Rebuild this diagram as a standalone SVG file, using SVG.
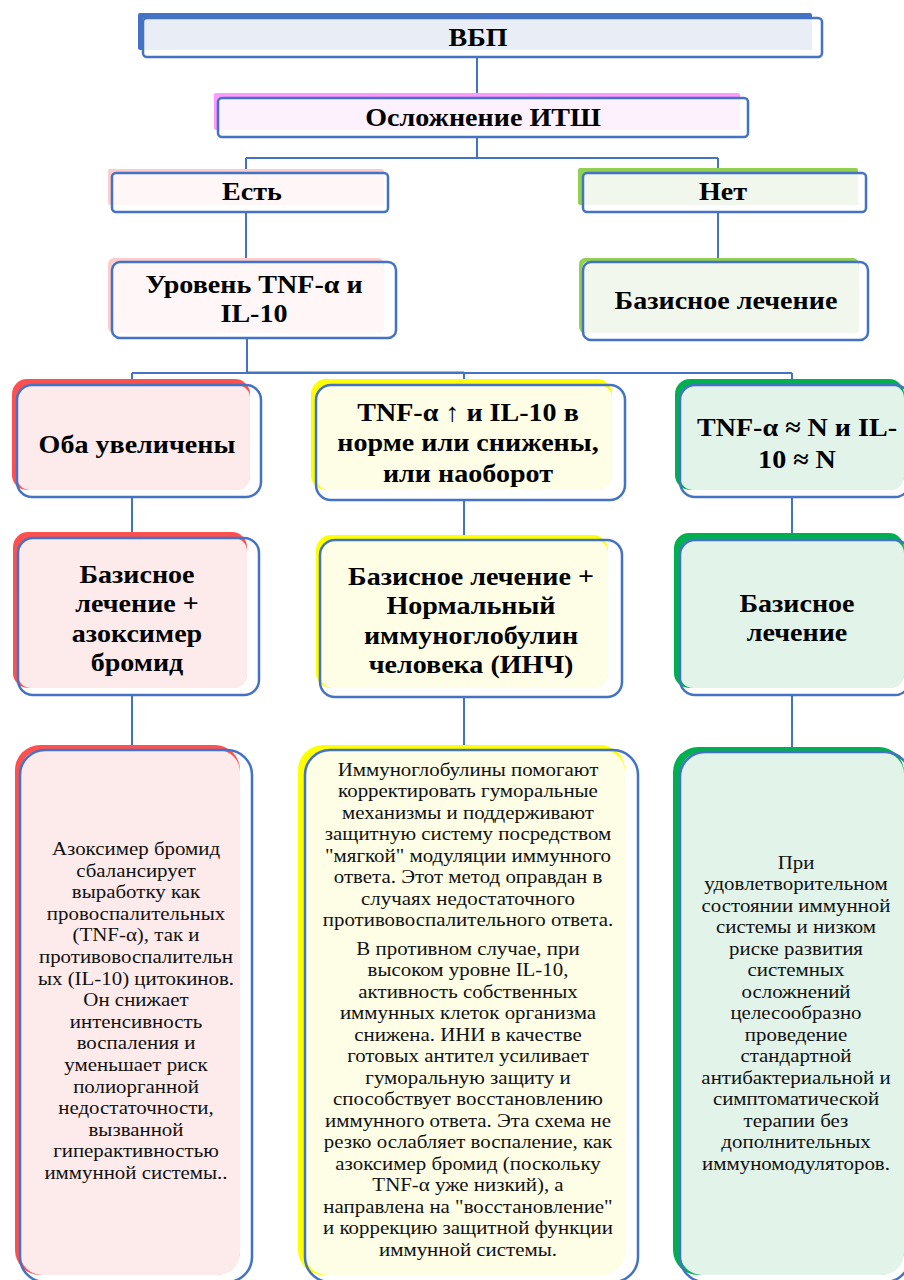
<svg xmlns="http://www.w3.org/2000/svg" width="904" height="1280" viewBox="0 0 904 1280">
<style>
.h{font-family:'Liberation Serif','Times New Roman',Times,serif;font-weight:bold;font-size:26px;fill:#000;text-anchor:middle}
.b{font-family:'Liberation Serif','Times New Roman',Times,serif;font-size:19px;fill:#111;text-anchor:middle}
.bd{fill:none;stroke:#4472C4;stroke-width:2.5}
.cn{fill:none;stroke:#4472C4;stroke-width:2}
</style>
<rect width="904" height="1280" fill="#fff"/>
<g id="connectors">
<path class="cn" d="M477 57V98M477 137V158M246 158H718M246 158V173M718 158V173M246 212V262M718 212V262M247 338V373M132 373H792M132 373V385M464 373V385M792 373V385M132 497V538M464 500V540M792 497V540M132 695V750M464 697V750M792 695V752"/>
<path class="cn" stroke-width="3" d="M247 372.5H464"/>
</g>
<g id="n-vbp">
<rect x="138" y="13" width="674" height="37" rx="2" fill="#4472C4"/>
<rect x="143" y="18" width="669" height="32" fill="#E9EEF6"/>
<rect class="bd" x="143" y="18" width="679" height="39" rx="4"/>
<text class="h" transform="matrix(1.08,0,0,1,-38.24,0)" x="478" y="46">ВБП</text>
</g>
<g id="n-itsh">
<rect x="214" y="93" width="526" height="37" rx="2" fill="#FF99FF"/>
<rect x="218" y="98" width="522" height="32" fill="#FDF1FD"/>
<rect class="bd" x="218" y="98" width="530" height="39" rx="4"/>
<text class="h" transform="matrix(1.08,0,0,1,-38.64,0)" x="483" y="126">Осложнение ИТШ</text>
</g>
<g id="n-yes">
<rect x="108" y="169" width="276" height="36" rx="2" fill="#FFCCCC"/>
<rect x="112" y="173" width="272" height="32" fill="#FFF7F7"/>
<rect class="bd" x="112" y="173" width="276" height="39" rx="4"/>
<text class="h" transform="matrix(1.08,0,0,1,-20.16,0)" x="252" y="200">Есть</text>
</g>
<g id="n-no">
<rect x="578" y="168" width="280" height="37" rx="2" fill="#92D050"/>
<rect x="583" y="173" width="275" height="32" fill="#F1F7EC"/>
<rect class="bd" x="583" y="173" width="283" height="39" rx="4"/>
<text class="h" transform="matrix(1.08,0,0,1,-57.84,0)" x="723" y="200">Нет</text>
</g>
<g id="n-level">
<rect x="108" y="258" width="276" height="75" rx="6" fill="#FFCCCC"/>
<rect x="112" y="262" width="272" height="71" rx="4" fill="#FFF7F7"/>
<rect class="bd" x="112" y="262" width="284" height="76" rx="8"/>
<g transform="matrix(1.08,0,0,1,-20.32,0)">
<text class="h" x="254" y="293">Уровень TNF-α и</text>
<text class="h" x="254" y="322">IL-10</text>
</g>
</g>
<g id="n-basic-top">
<rect x="579" y="258" width="280" height="75" rx="6" fill="#92D050"/>
<rect x="583" y="262" width="276" height="71" rx="4" fill="#F1F7EC"/>
<rect class="bd" x="583" y="262" width="285" height="78" rx="8"/>
<text class="h" transform="matrix(1.08,0,0,1,-58.08,0)" x="726" y="309">Базисное лечение</text>
</g>
<g id="n-both">
<rect x="12" y="379" width="238" height="111" rx="15" fill="#FF5050"/>
<rect x="17" y="385" width="233" height="105" rx="13" fill="#FDEAEA"/>
<rect class="bd" x="17" y="385" width="244" height="112" rx="15"/>
<text class="h" transform="matrix(1.08,0,0,1,-10.96,0)" x="137" y="453">Оба увеличены</text>
</g>
<g id="n-mixed">
<rect x="311" y="379" width="301" height="111" rx="15" fill="#FFFF00"/>
<rect x="316" y="385" width="296" height="105" rx="13" fill="#FEFEE6"/>
<rect class="bd" x="316" y="385" width="309" height="115" rx="15"/>
<g transform="matrix(1.08,0,0,1,-37.44,0)">
<text class="h" x="468" y="421">TNF-α ↑ и IL-10 в</text>
<text class="h" x="468" y="451">норме или снижены,</text>
<text class="h" x="468" y="482">или наоборот</text>
</g>
</g>
<g id="n-normal">
<rect x="675" y="379" width="229" height="111" rx="15" fill="#00B050"/>
<rect x="680" y="385" width="224" height="105" rx="13" fill="#E2F3E9"/>
<rect class="bd" x="680" y="385" width="230" height="112" rx="15"/>
<g transform="matrix(1.08,0,0,1,-63.76,0)">
<text class="h" x="797" y="436">TNF-α ≈ N и IL-</text>
<text class="h" x="797" y="468">10 ≈ N</text>
</g>
</g>
<g id="n-azox">
<rect x="13" y="532" width="234" height="156" rx="15" fill="#FF5050"/>
<rect x="18" y="538" width="229" height="150" rx="13" fill="#FDEAEA"/>
<rect class="bd" x="18" y="538" width="241" height="157" rx="15"/>
<g transform="matrix(1.08,0,0,1,-10.96,0)">
<text class="h" x="137" y="583">Базисное</text>
<text class="h" x="137" y="612">лечение +</text>
<text class="h" x="137" y="642">азоксимер</text>
<text class="h" x="137" y="671">бромид</text>
</g>
</g>
<g id="n-inch">
<rect x="316" y="535" width="292" height="153" rx="15" fill="#FFFF00"/>
<rect x="320" y="540" width="288" height="148" rx="13" fill="#FEFEE6"/>
<rect class="bd" x="320" y="540" width="302" height="157" rx="15"/>
<g transform="matrix(1.08,0,0,1,-37.68,0)">
<text class="h" x="471" y="585">Базисное лечение +</text>
<text class="h" x="471" y="614">Нормальный</text>
<text class="h" x="471" y="644">иммуноглобулин</text>
<text class="h" x="471" y="673">человека (ИНЧ)</text>
</g>
</g>
<g id="n-basic">
<rect x="674" y="533" width="230" height="155" rx="15" fill="#00B050"/>
<rect x="680" y="540" width="224" height="148" rx="13" fill="#E2F3E9"/>
<rect class="bd" x="680" y="540" width="230" height="155" rx="15"/>
<g transform="matrix(1.08,0,0,1,-63.76,0)">
<text class="h" x="797" y="612">Базисное</text>
<text class="h" x="797" y="641">лечение</text>
</g>
</g>
<g id="t-azox">
<rect x="15" y="745" width="225" height="530" rx="25" fill="#FF5050"/>
<rect x="20" y="750" width="220" height="525" rx="22" fill="#FDEAEA"/>
<rect class="bd" x="20" y="750" width="232" height="532" rx="25"/>
<text class="b" transform="matrix(1.1,0,0,1,-13.6,0)" x="136"><tspan x="136" y="855">Азоксимер бромид</tspan><tspan x="136" y="876.6">сбалансирует</tspan><tspan x="136" y="898.2">выработку как</tspan><tspan x="136" y="919.8">провоспалительных</tspan><tspan x="136" y="941.4">(TNF-α), так и</tspan><tspan x="136" y="963">противовоспалительн</tspan><tspan x="136" y="984.6">ых (IL-10) цитокинов.</tspan><tspan x="136" y="1006.2">Он снижает</tspan><tspan x="136" y="1027.8">интенсивность</tspan><tspan x="136" y="1049.4">воспаления и</tspan><tspan x="136" y="1071">уменьшает риск</tspan><tspan x="136" y="1092.6">полиорганной</tspan><tspan x="136" y="1114.2">недостаточности,</tspan><tspan x="136" y="1135.8">вызванной</tspan><tspan x="136" y="1157.4">гиперактивностью</tspan><tspan x="136" y="1179">иммунной системы..</tspan></text>
</g>
<g id="t-inch">
<rect x="298" y="745" width="327" height="530" rx="25" fill="#FFFF00"/>
<rect x="305" y="750" width="320" height="525" rx="22" fill="#FEFEE6"/>
<rect class="bd" x="305" y="750" width="333" height="532" rx="25"/>
<text class="b" transform="matrix(1.1,0,0,1,-46.8,0)" x="468"><tspan x="468" y="776">Иммуноглобулины помогают</tspan><tspan x="468" y="797.5">корректировать гуморальные</tspan><tspan x="468" y="819">механизмы и поддерживают</tspan><tspan x="468" y="840.5">защитную систему посредством</tspan><tspan x="468" y="862">"мягкой" модуляции иммунного</tspan><tspan x="468" y="883.5">ответа. Этот метод оправдан в</tspan><tspan x="468" y="905">случаях недостаточного</tspan><tspan x="468" y="926.5">противовоспалительного ответа.</tspan><tspan x="468" y="955">В противном случае, при</tspan><tspan x="468" y="976.5">высоком уровне IL-10,</tspan><tspan x="468" y="998">активность собственных</tspan><tspan x="468" y="1019.5">иммунных клеток организма</tspan><tspan x="468" y="1041">снижена. ИНИ в качестве</tspan><tspan x="468" y="1062.5">готовых антител усиливает</tspan><tspan x="468" y="1084">гуморальную защиту и</tspan><tspan x="468" y="1105.5">способствует восстановлению</tspan><tspan x="468" y="1127">иммунного ответа. Эта схема не</tspan><tspan x="468" y="1148.5">резко ослабляет воспаление, как</tspan><tspan x="468" y="1170">азоксимер бромид (поскольку</tspan><tspan x="468" y="1191.5">TNF-α уже низкий), а</tspan><tspan x="468" y="1213">направлена на "восстановление"</tspan><tspan x="468" y="1234.5">и коррекцию защитной функции</tspan><tspan x="468" y="1256">иммунной системы.</tspan></text>
</g>
<g id="t-basic">
<rect x="673" y="747" width="231" height="528" rx="25" fill="#00B050"/>
<rect x="680" y="752" width="224" height="523" rx="22" fill="#E2F3E9"/>
<rect class="bd" x="680" y="752" width="230" height="530" rx="25"/>
<text class="b" transform="matrix(1.1,0,0,1,-79.6,0)" x="796"><tspan x="796" y="869">При</tspan><tspan x="796" y="890.5">удовлетворительном</tspan><tspan x="796" y="912">состоянии иммунной</tspan><tspan x="796" y="933.5">системы и низком</tspan><tspan x="796" y="955">риске развития</tspan><tspan x="796" y="976.5">системных</tspan><tspan x="796" y="998">осложнений</tspan><tspan x="796" y="1019.5">целесообразно</tspan><tspan x="796" y="1041">проведение</tspan><tspan x="796" y="1062.5">стандартной</tspan><tspan x="796" y="1084">антибактериальной и</tspan><tspan x="796" y="1105.5">симптоматической</tspan><tspan x="796" y="1127">терапии без</tspan><tspan x="796" y="1148.5">дополнительных</tspan><tspan x="796" y="1170">иммуномодуляторов.</tspan></text>
</g>
</svg>
